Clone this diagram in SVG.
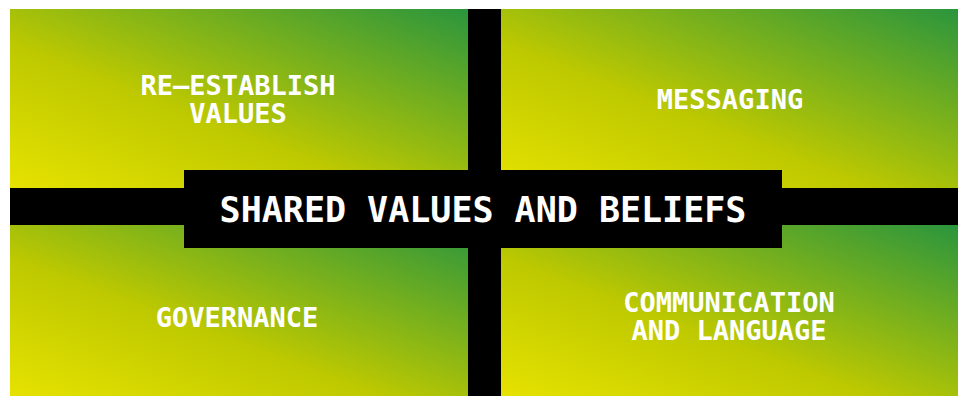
<svg xmlns="http://www.w3.org/2000/svg" width="963" height="396" viewBox="0 0 963 396">
  <defs>
    <linearGradient id="g" x1="0" y1="1" x2="1" y2="0">
      <stop offset="0" stop-color="#e6e200"/>
      <stop offset="0.4" stop-color="#bec900"/>
      <stop offset="1" stop-color="#2a953d"/>
    </linearGradient>
  </defs>
  <style>
    .q { fill: url(#g); }
    .bar { fill: #000000; }
    .t { font-family: "DejaVu Sans Mono", "Liberation Mono", monospace; font-weight: bold; fill: #ffffff; text-anchor: middle; }
    .qt { font-size: 27px; }
    .ct { font-size: 35px; }
  </style>
  <rect x="0" y="0" width="963" height="396" fill="#ffffff"/>
  <g id="quadrant-top-left">
    <rect class="q" x="10" y="9" width="458" height="179"/>
    <text class="t qt" x="238" y="95">RE–ESTABLISH</text>
    <text class="t qt" x="238" y="123">VALUES</text>
  </g>
  <g id="quadrant-top-right">
    <rect class="q" x="501" y="9" width="457" height="179"/>
    <text class="t qt" x="730" y="109">MESSAGING</text>
  </g>
  <g id="quadrant-bottom-left">
    <rect class="q" x="10" y="225" width="458" height="171"/>
    <text class="t qt" x="237" y="327">GOVERNANCE</text>
  </g>
  <g id="quadrant-bottom-right">
    <rect class="q" x="501" y="225" width="457" height="171"/>
    <text class="t qt" x="729" y="312">COMMUNICATION</text>
    <text class="t qt" x="729" y="340">AND LANGUAGE</text>
  </g>
  <g id="connectors">
    <rect class="bar" x="468" y="9" width="33" height="387"/>
    <rect class="bar" x="10" y="188" width="948" height="37"/>
  </g>
  <g id="center">
    <rect class="bar" x="184" y="170" width="598" height="78"/>
    <text class="t ct" x="483" y="222">SHARED VALUES AND BELIEFS</text>
  </g>
</svg>
